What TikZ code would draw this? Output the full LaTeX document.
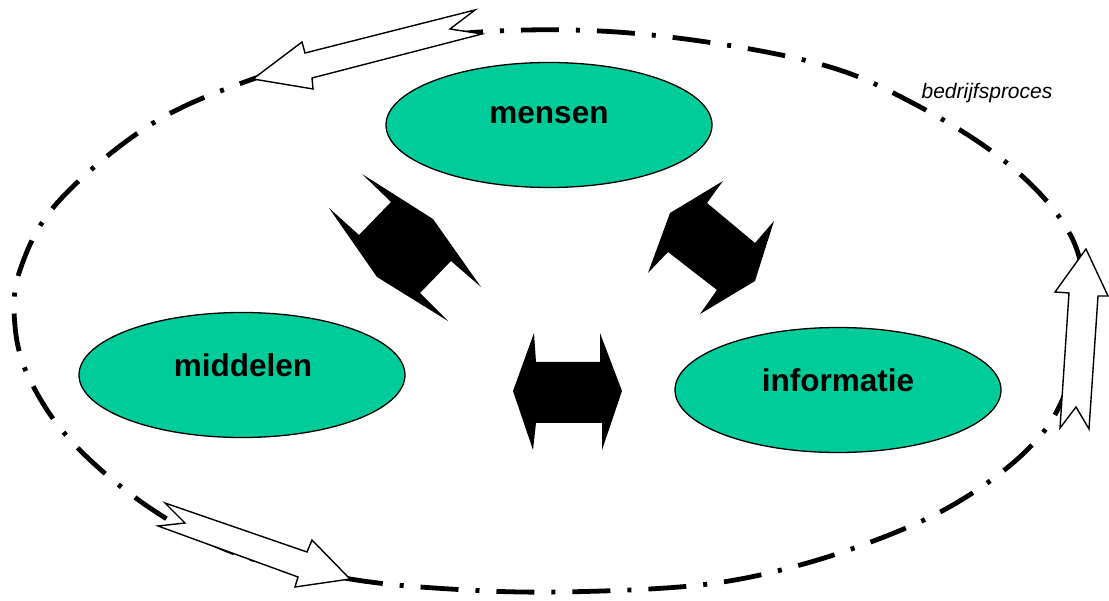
\documentclass[tikz,border=0pt]{standalone}
\usepackage{fontspec}
\setmainfont{Liberation Sans}
\usetikzlibrary{shapes.geometric}
\definecolor{blobgreen}{HTML}{00CC99}
\begin{document}
\begin{tikzpicture}[x=1pt,y=-1pt,
  blob/.style={ellipse, draw=black, line width=1.3pt, fill=blobgreen, minimum width=326pt, minimum height=125pt, inner sep=0pt},
  lbl/.style={font=\fontsize{31.5}{34}\selectfont\bfseries, inner sep=0pt},
  process/.style={line width=4.8pt, dash pattern=on 38pt off 17pt on 4pt off 17pt},
  blockarrow/.style={draw=black, fill=white, line width=1.4pt, line join=miter},
  duo/.style={fill=black, draw=none}]
\useasboundingbox (0,0) rectangle (1109,601);
% process boundary
\draw[process] plot[smooth cycle, tension=0.6] coordinates {
 (253,79) (370,46) (480,32) (600,31) (720,44) (830,67) (907,100) (990,150)
 (1050,205) (1080,260) (1082,330) (1060,405) (1024,453) (963,499) (894,533)
 (800,565) (700,585) (560,592) (450,589) (350,579) (240,555) (150,508)
 (73,443) (30,380) (15,326) (20,270) (58,202) (150,125)};
\node[font=\fontsize{21}{23}\selectfont\itshape, inner sep=0pt] (bp) at (987,93) {bedrijfsproces};
% ellipses
\node[blob] (mensen) at (549,125) {};
\node[lbl] (mensent) at (549,115) {mensen};
\node[blob] (middelen) at (242,375) {};
\node[lbl] (middelent) at (243,365) {middelen};
\node[blob] (informatie) at (838,390) {};
\node[lbl] (informatiet) at (838,380) {informatie};
% black double arrows
\fill[duo] (391,202) -- (362,174) -- (433,219) -- (481,287) -- (451,261) -- (420,293)
  -- (448,321) -- (377,277) -- (329,208) -- (359,235) -- cycle;
\fill[duo] (723,181) -- (707,203) -- (755,243) -- (774,221) -- (755,281) -- (700,314)
  -- (717,290) -- (668,252) -- (648,273) -- (670,213) -- cycle;
\fill[duo] (536,362) -- (534,333) -- (513,391) -- (533,450) -- (536,423) -- (602,423)
  -- (602,450) -- (622,391) -- (600,333) -- (600,362) -- cycle;
% white block arrows
\filldraw[blockarrow] (253,79) -- (302,42) -- (305,53) -- (475,10) -- (450,29) -- (482,34)
  -- (312,78) -- (313,89) -- cycle;
\filldraw[blockarrow] (165,503) -- (307,552) -- (312,540) -- (350,579) -- (295,587)
  -- (298,577) -- (158,526) -- (185,523) -- cycle;
\filldraw[blockarrow] (1086,249) -- (1108,296) -- (1098,296) -- (1089,429) -- (1076,407)
  -- (1060,428) -- (1069,293) -- (1055,292) -- cycle;
\end{tikzpicture}
\end{document}
